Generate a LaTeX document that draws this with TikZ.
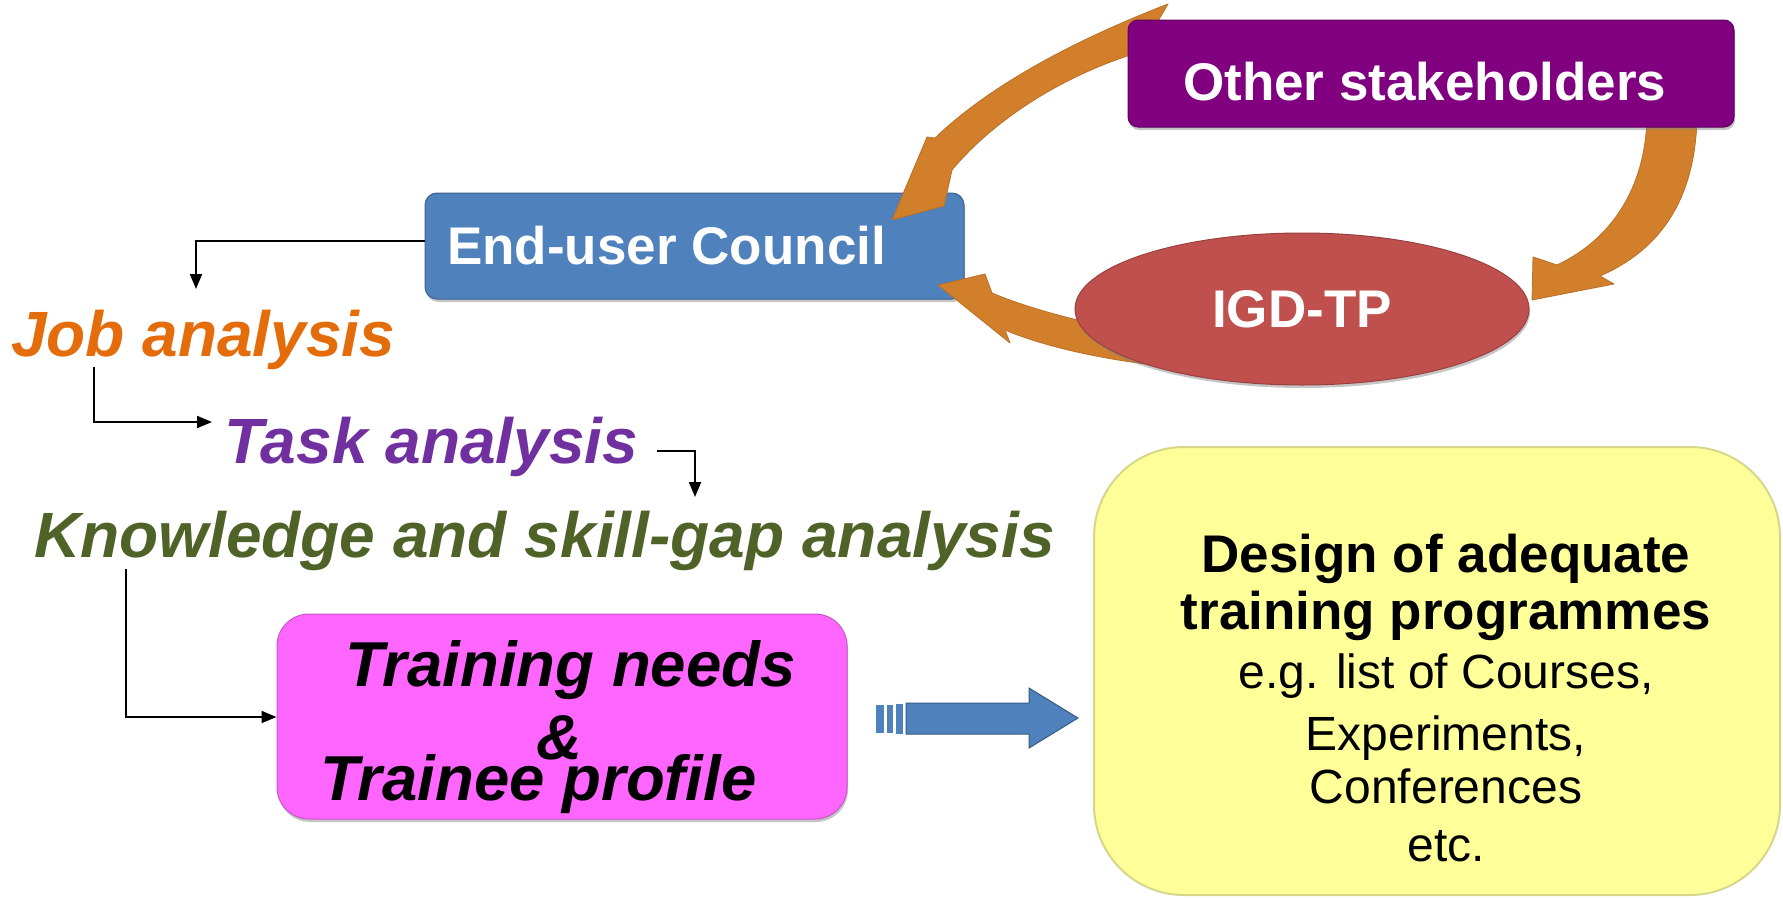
\documentclass[tikz,border=0pt]{standalone}
\usepackage{fontspec}
\setmainfont{Liberation Sans}
\usetikzlibrary{arrows.meta,shapes.geometric,shadows}
\definecolor{jobc}{HTML}{E46C0A}
\definecolor{taskc}{HTML}{7030A0}
\definecolor{knowc}{HTML}{4F6228}
\definecolor{eucc}{HTML}{4F81BD}
\definecolor{osc}{HTML}{800080}
\definecolor{igdc}{HTML}{C0504D}
\definecolor{trc}{HTML}{FF66FF}
\definecolor{yc}{HTML}{FFFF99}
\definecolor{orc}{HTML}{D27F2C}
\begin{document}
\begin{tikzpicture}[x=1pt,y=-1pt,
  shbox/.style={inner sep=0pt, drop shadow={shadow xshift=1pt,shadow yshift=-3pt,opacity=0.45}},
  bigtxt/.style={inner sep=0pt, font=\fontsize{64}{70}\selectfont\bfseries\itshape},
  boxtxt/.style={inner sep=0pt, font=\fontsize{53}{60}\selectfont\bfseries, text=white},
  trtxt/.style={inner sep=0pt, font=\fontsize{63.5}{68}\selectfont\bfseries\itshape},
  ybold/.style={inner sep=0pt, anchor=base, font=\fontsize{53}{60}\selectfont\bfseries},
  yreg/.style={inner sep=0pt, anchor=base, font=\fontsize{48}{56}\selectfont},
  thin/.style={draw=black, line width=2pt, -{Triangle[length=15pt,width=12pt]}},
  cycarrow/.style={fill=orc, draw=orc!88!black, line width=0.8pt, line join=round}
]
\useasboundingbox[fill=white] (0,0) rectangle (1783,897);

% End-user Council box
\node[shbox, rectangle, rounded corners=12pt, fill=eucc, draw=eucc!75!black, line width=1pt,
      minimum width=539pt, minimum height=106pt] (euc) at (694.5,246) {};

% orange cycle arrow from IGD-TP to End-user Council (tail hidden under the ellipse)
\path[cycarrow] (1150,336) .. controls (1080,322) and (1030,309) .. (992,293)
  -- (985,274) -- (938,285) -- (1010,343) -- (1005,330)
  .. controls (1040,345) and (1100,360) .. (1172,367) -- cycle;

% IGD-TP ellipse
\node[shbox, ellipse, fill=igdc, draw=igdc!80!black, line width=1pt,
      minimum width=454pt, minimum height=152pt] (igd) at (1302,309) {};

% orange arrow from Other stakeholders to IGD-TP
\path[cycarrow] (1697,118) .. controls (1695,200) and (1660,250) .. (1600,276)
  -- (1614,284) -- (1532,300) -- (1533,257) -- (1557,265)
  .. controls (1610,240) and (1645,190) .. (1647,118) -- cycle;

% orange arrow from Other stakeholders to End-user Council
\path[cycarrow] (1168,4) .. controls (1075,40) and (990,85) .. (935,138)
  -- (927,137) -- (892,220) -- (944,206) -- (952,170)
  .. controls (992,122) and (1060,76) .. (1140,52) -- cycle;

% Other stakeholders box
\node[shbox, rectangle, rounded corners=10pt, fill=osc, draw=osc!75!black, line width=1pt,
      minimum width=606pt, minimum height=107pt] (os) at (1431,73.5) {};

% box texts
\node[boxtxt, anchor=base west] (euct) at (447,264) {End-user Council};
\node[boxtxt, anchor=base west] (ost) at (1183,100) {Other stakeholders};
\node[boxtxt, anchor=base] (igdt) at (1302,327) {IGD-TP};

% analysis texts
\node[bigtxt, text=jobc, anchor=base west] (job) at (11,356) {Job analysis};
\node[bigtxt, text=taskc, anchor=base west] (task) at (224,463) {Task analysis};
\node[bigtxt, text=knowc, anchor=base west] (know) at (34,557) {Knowledge and skill-gap analysis};

% Training needs box
\node[shbox, rectangle, rounded corners=32pt, fill=trc, draw=trc!80!black, line width=1pt,
      minimum width=570pt, minimum height=205pt] (tn) at (562,716.5) {};
\node[trtxt, anchor=base west] (tn1) at (345,686) {Training needs};
\node[trtxt, anchor=base] (tn2) at (559,759) {\&};
\node[trtxt, anchor=base west] (tn3) at (320,800) {Trainee profile};

% thin black connectors
\coordinate (a1) at (196,289);
\draw[thin] (euc.west |- 0,241) -| (a1);
\coordinate (b0) at (94,367);
\coordinate (b1) at (212,422);
\draw[thin] (b0) |- (b1);
\coordinate (c0) at (657,451);
\coordinate (c1) at (695,497);
\draw[thin] (c0) -| (c1);
\coordinate (d0) at (126,569);
\draw[thin] (d0) |- (tn.west |- 0,717);

% blue block arrow
\fill[eucc] (876,705) rectangle (884,733);
\fill[eucc] (887,705) rectangle (893,733);
\fill[eucc] (896,704) rectangle (903,734);
\path[fill=eucc, draw=eucc!70!black, line width=1pt]
  (906,703) -- (1029,703) -- (1029,688) -- (1078,718) -- (1029,748) -- (1029,734) -- (906,734) -- cycle;

% yellow design box
\node[rectangle, rounded corners=90pt, fill=yc, draw={rgb,255:red,215;green,215;blue,140}, line width=2pt,
      minimum width=686pt, minimum height=448pt, inner sep=0pt] (des) at (1437,671) {};
\node[ybold] (d1) at (1446,572) {Design of adequate};
\node[ybold] (d2) at (1446,629) {training programmes};
\node[yreg] (d3) at (1446,688) {e.g. list of Courses,};
\node[yreg] (d4) at (1446,750) {Experiments,};
\node[yreg] (d5) at (1446,803) {Conferences};
\node[yreg] (d6) at (1446,861) {etc.};
\end{tikzpicture}
\end{document}
